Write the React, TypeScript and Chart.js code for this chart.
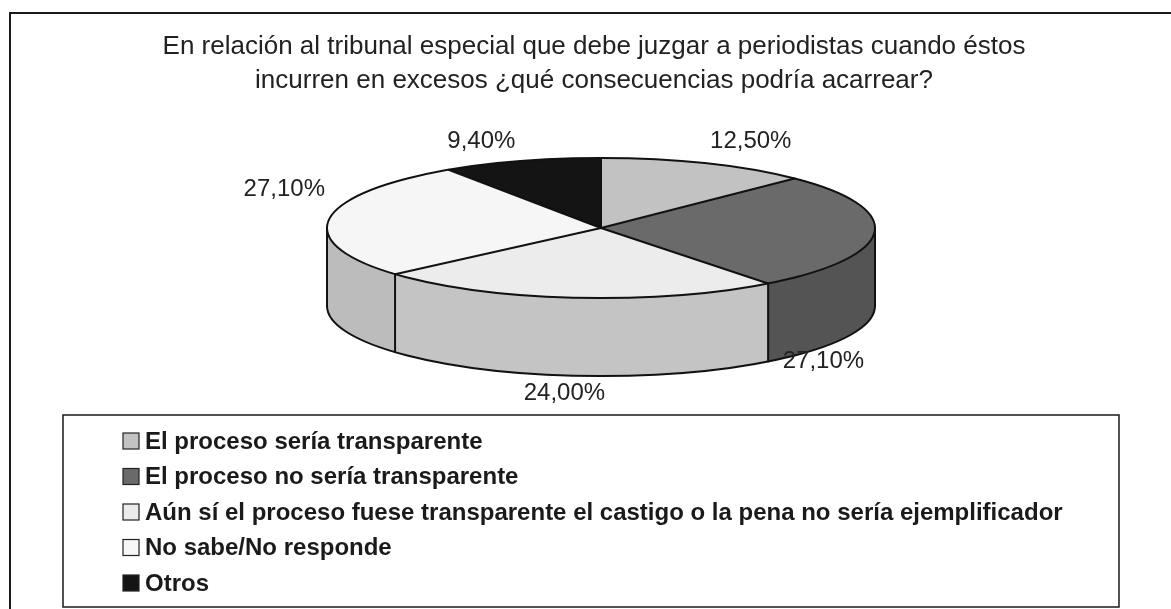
import React, { useEffect, useRef } from "react";
import { Chart, registerables } from "chart.js";

Chart.register(...registerables);

// ---------- data ----------
const TITLE_LINES = [
  "En relación al tribunal especial que debe juzgar a periodistas cuando éstos",
  "incurren en excesos ¿qué consecuencias podría acarrear?",
];
const CATEGORIES = [
  "El proceso sería transparente",
  "El proceso no sería transparente",
  "Aún sí el proceso fuese transparente el castigo o la pena no sería ejemplificador",
  "No sabe/No responde",
  "Otros",
];
const VALUES = [12.5, 27.1, 24.0, 27.1, 9.4];

// ---------- styles ----------
const FONT = '"Liberation Sans", Arial, Helvetica, sans-serif';
const TOP_COLORS = ["#c2c2c2", "#6a6a6a", "#ececec", "#f6f6f6", "#141414"];
const SIDE_COLORS = ["#9c9c9c", "#545454", "#c4c4c4", "#bcbcbc", "#0c0c0c"];
const LABEL_NUDGE = [
  [45, -22],
  [-51, 129],
  [-10, 96],
  [-45, -30],
  [-40, -20],
];
const PIE = { cx: 601, cy: 228, rx: 274, ry: 70, depth: 78 };
const LEGEND_BOX = { left: 63, top: 415, right: 1119, bottom: 607 };
const LEGEND_ROW0 = 441;
const LEGEND_STEP = 35.5;

const fmt = (v: number) => v.toFixed(2).replace(".", ",") + "%";

const norm = (a: number) => {
  const t = Math.PI * 2;
  return ((a % t) + t) % t;
};

const pie3d = {
  id: "pie3d",
  beforeDatasetsDraw(chart: any) {
    const ctx = chart.ctx as CanvasRenderingContext2D;
    const arcs = chart.getDatasetMeta(0).data as any[];
    const { cx, cy, rx, ry, depth } = PIE;
    // side walls (front facing part only)
    ctx.save();
    arcs.forEach((arc, i) => {
      const s = arc.startAngle;
      const e = arc.endAngle;
      const a1 = Math.max(s, 0);
      const a2 = Math.min(e, Math.PI);
      if (a2 <= a1) return;
      ctx.beginPath();
      ctx.ellipse(cx, cy, rx, ry, 0, a1, a2);
      ctx.ellipse(cx, cy + depth, rx, ry, 0, a2, a1, true);
      ctx.closePath();
      ctx.fillStyle = SIDE_COLORS[i];
      ctx.fill();
    });
    ctx.restore();
    // flatten the library's circle into the ellipse
    const a0 = arcs[0];
    ctx.save();
    ctx.translate(cx, cy);
    ctx.scale(rx / a0.outerRadius, ry / a0.outerRadius);
    ctx.translate(-a0.x, -a0.y);
  },
  afterDatasetsDraw(chart: any) {
    const ctx = chart.ctx as CanvasRenderingContext2D;
    ctx.restore();
    const arcs = chart.getDatasetMeta(0).data as any[];
    const { cx, cy, rx, ry, depth } = PIE;
    ctx.save();
    ctx.strokeStyle = "#111";
    ctx.lineWidth = 2;
    ctx.lineJoin = "round";
    ctx.lineCap = "round";
    // bottom rim
    ctx.beginPath();
    ctx.ellipse(cx, cy + depth, rx, ry, 0, 0, Math.PI);
    ctx.stroke();
    // verticals
    const verts = [0, Math.PI];
    arcs.forEach((a) => {
      const s = norm(a.startAngle);
      if (s > 0.01 && s < Math.PI - 0.01) verts.push(s);
    });
    verts.forEach((a) => {
      const px = cx + rx * Math.cos(a);
      const py = cy + ry * Math.sin(a);
      ctx.beginPath();
      ctx.moveTo(px, py);
      ctx.lineTo(px, py + depth);
      ctx.stroke();
    });
    // top rim
    ctx.beginPath();
    ctx.ellipse(cx, cy, rx, ry, 0, 0, Math.PI * 2);
    ctx.stroke();
    // radial lines
    arcs.forEach((a) => {
      const s = a.startAngle;
      ctx.beginPath();
      ctx.moveTo(cx, cy);
      ctx.lineTo(cx + rx * Math.cos(s), cy + ry * Math.sin(s));
      ctx.stroke();
    });
    // value labels
    ctx.fillStyle = "#222";
    ctx.font = `24px ${FONT}`;
    ctx.textAlign = "center";
    ctx.textBaseline = "middle";
    arcs.forEach((a, i) => {
      const m = (a.startAngle + a.endAngle) / 2;
      const x = cx + rx * Math.cos(m) + LABEL_NUDGE[i][0];
      const y = cy + ry * Math.sin(m) + LABEL_NUDGE[i][1];
      ctx.fillText(fmt(chart.data.datasets[0].data[i]), x, y);
    });
    ctx.restore();
  },
  afterDraw(chart: any) {
    const ctx = chart.ctx as CanvasRenderingContext2D;
    ctx.save();
    // outer frame
    ctx.strokeStyle = "#1a1a1a";
    ctx.lineWidth = 2;
    ctx.beginPath();
    ctx.moveTo(10, 609);
    ctx.lineTo(10, 13);
    ctx.lineTo(1171, 13);
    ctx.stroke();
    // legend box
    const b = LEGEND_BOX;
    ctx.lineWidth = 1.5;
    ctx.strokeRect(b.left, b.top, b.right - b.left, b.bottom - b.top);
    ctx.font = `bold 24px ${FONT}`;
    ctx.textAlign = "left";
    ctx.textBaseline = "middle";
    (chart.data.labels as string[]).forEach((lab, i) => {
      const y = LEGEND_ROW0 + i * LEGEND_STEP;
      ctx.fillStyle = TOP_COLORS[i];
      ctx.fillRect(123, y - 8, 16, 16);
      ctx.lineWidth = 1.2;
      ctx.strokeStyle = "#222";
      ctx.strokeRect(123, y - 8, 16, 16);
      ctx.fillStyle = "#1a1a1a";
      ctx.fillText(lab, 145, y + 1);
    });
    ctx.restore();
  },
};

export default function App() {
  const ref = useRef<HTMLCanvasElement | null>(null);
  useEffect(() => {
    if (!ref.current) return;
    const chart = new Chart(ref.current, {
      type: "pie",
      data: {
        labels: CATEGORIES,
        datasets: [
          {
            data: VALUES,
            backgroundColor: TOP_COLORS,
            borderWidth: 0,
            clip: false as any,
          },
        ],
      },
      options: {
        responsive: false,
        animation: false,
        layout: { padding: { top: 30, left: 17, right: 0, bottom: 10 } },
        plugins: {
          legend: { display: false },
          tooltip: { enabled: false },
          title: {
            display: true,
            text: TITLE_LINES,
            color: "#222",
            font: { family: FONT, size: 26, weight: "normal", lineHeight: 1.31 },
            padding: { top: 0, bottom: 10 },
          },
        },
      },
      plugins: [pie3d],
    });
    return () => chart.destroy();
  }, []);
  return (
    <div style={{ position: "absolute", left: 0, top: 0, width: 1171, height: 609, background: "#fff" }}>
      <canvas ref={ref} width={1171} height={609} style={{ display: "block" }} />
    </div>
  );
}
